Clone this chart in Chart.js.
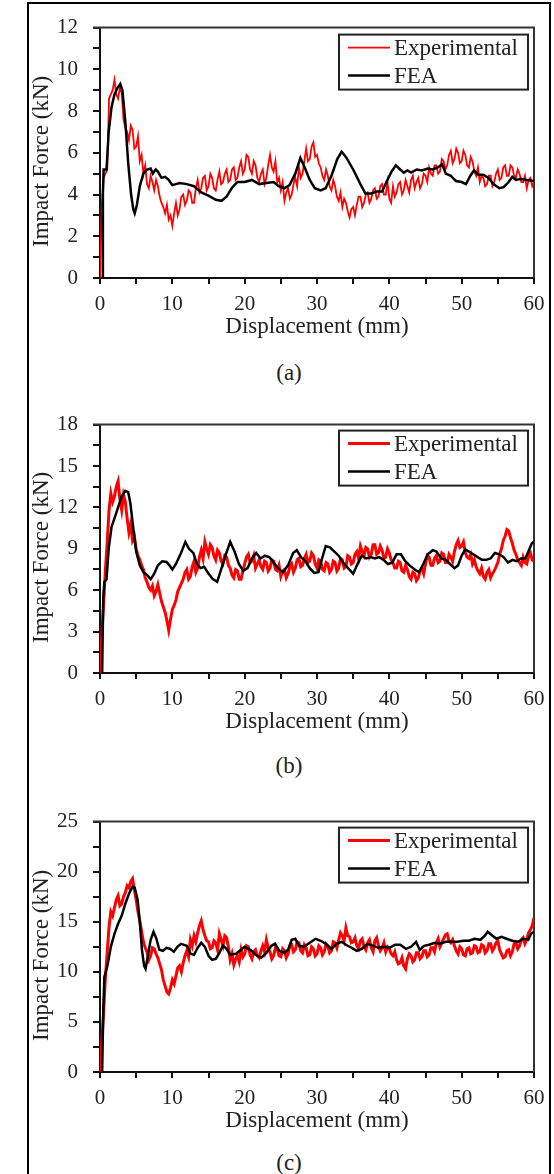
<!DOCTYPE html>
<html>
<head>
<meta charset="utf-8">
<script src="https://cdn.jsdelivr.net/npm/chart.js@4.4.1/dist/chart.umd.min.js"></script>
<style>
  html, body { margin: 0; padding: 0; background: #fff; }
  #page { position: relative; width: 554px; height: 1174px; overflow: hidden; background: #fff; }
  #frame { position: absolute; left: 27px; top: 2px; width: 520px; height: 1200px; border: 2px solid #000; border-bottom: none; }
  canvas { position: absolute; left: 0; }
  .caption { position: absolute; left: 249px; width: 80px; text-align: center; font: 23px/28px "Liberation Serif", "Times New Roman", serif; color: #222; }
</style>
</head>
<body>
<div id="page">
  <div id="frame"></div>
  <canvas id="chart-a" width="554" height="341" style="top:0px;width:554px;height:341px"></canvas>
  <div class="caption" style="top:359px">(a)</div>
  <canvas id="chart-b" width="554" height="339" style="top:397px;width:554px;height:339px"></canvas>
  <div class="caption" style="top:752px">(b)</div>
  <canvas id="chart-c" width="554" height="341" style="top:794px;width:554px;height:341px"></canvas>
  <div class="caption" style="top:1149px">(c)</div>
</div>
<script>
// displacement (mm) of the experimental traces, one row = 5 mm
var expX = [0,0.25,0.5,0.75,1,1.25,1.5,1.75,2,2.25,2.5,2.75,3,3.25,3.5,3.75,4,4.25,4.5,4.75,
  5,5.25,5.5,5.75,6,6.25,6.5,6.75,7,7.25,7.5,7.75,8,8.25,8.5,8.75,9,9.25,9.5,9.75,
  10,10.25,10.5,10.75,11,11.25,11.5,11.75,12,12.25,12.5,12.75,13,13.25,13.5,13.75,14,14.25,14.5,14.75,
  15,15.25,15.5,15.75,16,16.25,16.5,16.75,17,17.25,17.5,17.75,18,18.25,18.5,18.75,19,19.25,19.5,19.75,
  20,20.25,20.5,20.75,21,21.25,21.5,21.75,22,22.25,22.5,22.75,23,23.25,23.5,23.75,24,24.25,24.5,24.75,
  25,25.25,25.5,25.75,26,26.25,26.5,26.75,27,27.25,27.5,27.75,28,28.25,28.5,28.75,29,29.25,29.5,29.75,
  30,30.25,30.5,30.75,31,31.25,31.5,31.75,32,32.25,32.5,32.75,33,33.25,33.5,33.75,34,34.25,34.5,34.75,
  35,35.25,35.5,35.75,36,36.25,36.5,36.75,37,37.25,37.5,37.75,38,38.25,38.5,38.75,39,39.25,39.5,39.75,
  40,40.25,40.5,40.75,41,41.25,41.5,41.75,42,42.25,42.5,42.75,43,43.25,43.5,43.75,44,44.25,44.5,44.75,
  45,45.25,45.5,45.75,46,46.25,46.5,46.75,47,47.25,47.5,47.75,48,48.25,48.5,48.75,49,49.25,49.5,49.75,
  50,50.25,50.5,50.75,51,51.25,51.5,51.75,52,52.25,52.5,52.75,53,53.25,53.5,53.75,54,54.25,54.5,54.75,
  55,55.25,55.5,55.75,56,56.25,56.5,56.75,57,57.25,57.5,57.75,58,58.25,58.5,58.75,59,59.25,59.5,59.75,
  60];

// (a) impact force, kN
var expA = [0,3.5,4.8,5.0,5.2,8.6,8.8,9.0,9.5,8.8,8.6,9.1,8.9,7.6,7.2,7.0,6.6,7.3,7.1,6.2,
  6.3,6.8,5.6,5.9,5.0,5.4,4.5,4.3,4.9,4.6,4.2,4.7,4.4,3.9,3.6,3.4,3.1,3.5,2.8,3.0,
  2.5,3.1,3.6,3.0,3.3,3.9,4.0,3.5,3.7,4.2,4.1,3.6,3.6,4.3,4.7,4.1,4.3,4.8,4.9,4.2,
  4.4,5.0,4.8,4.3,4.2,4.7,5.1,4.5,4.6,5.0,5.2,4.6,4.7,5.2,5.3,4.7,4.8,5.3,5.6,5.0,
  5.2,5.9,5.8,5.2,5.0,5.6,5.4,4.8,4.6,5.0,5.2,4.5,4.8,5.4,5.9,5.3,5.1,5.6,4.6,4.8,
  4.2,4.6,3.7,4.1,4.3,3.8,4.0,4.5,4.8,4.4,5.3,4.8,5.0,5.6,6.2,5.6,5.7,6.3,6.5,5.8,
  5.9,5.5,5.3,4.9,4.7,5.2,4.9,4.4,4.2,4.7,4.4,3.9,3.7,4.1,3.4,3.8,3.6,3.2,2.9,3.3,
  3.4,3.0,3.5,3.9,3.9,3.4,3.6,4.0,4.1,3.6,3.8,4.2,4.3,3.8,3.9,4.4,4.5,4.0,4.0,4.6,
  3.8,3.6,4.4,3.9,4.1,4.5,4.6,4.0,4.2,4.7,4.4,4.1,4.7,4.9,4.3,4.6,4.8,4.3,4.5,5.0,
  4.9,4.6,5.3,5.0,4.9,5.4,5.4,5.0,5.1,5.7,5.6,5.2,5.4,5.9,6.1,5.5,5.7,6.2,6.0,5.5,
  5.6,6.1,5.9,5.4,5.3,5.8,5.6,5.1,4.9,5.3,4.6,4.9,4.8,4.4,4.5,4.9,4.9,4.4,4.6,5.0,
  5.2,4.7,4.8,5.3,5.4,4.9,4.9,5.4,5.3,4.9,4.8,5.2,5.0,4.6,4.6,4.9,4.3,4.7,4.8,4.4,
  4.6];
var feaAx = [0.3,0.4,0.5,0.9,1.2,1.6,2.0,2.4,2.8,3.1,3.5,3.9,4.3,4.6,4.8,5.1,5.5,6.0,6.5,7.0,
  7.3,7.7,8.0,8.5,9.0,9.5,10.0,10.5,11.0,12.0,13,14,15,16,16.8,17.5,18.2,19,20,21,
  22,23,24,24.7,25.5,26.2,27,27.7,28.3,29,29.7,30.5,31.2,32,32.8,33.4,34,35,36,36.7,
  37.5,38.3,39,39.6,40.3,40.9,41.5,42,42.5,43,43.8,44.5,45.3,46,46.7,47.3,47.8,48.5,49.2,50,
  50.6,51.2,51.7,52.3,53,53.7,54.4,55.2,55.8,56.5,57,57.5,58.2,59,60];
var feaAy = [0,4.0,5.2,5.2,7.0,8.2,8.8,9.1,9.3,9.0,7.5,5.5,4.0,3.3,3.1,3.5,4.4,5.0,5.2,5.25,
  5.0,5.2,5.1,4.8,4.85,4.7,4.45,4.5,4.55,4.5,4.4,4.1,3.95,3.75,3.7,3.9,4.3,4.6,4.6,4.7,
  4.5,4.55,4.6,4.4,4.3,4.45,5.0,5.75,5.3,4.7,4.3,4.2,4.3,4.9,5.7,6.05,5.8,5.2,4.5,4.05,
  4.05,4.15,4.15,4.6,5.1,5.4,5.2,5.05,5.15,5.05,5.2,5.15,5.25,5.2,5.3,5.45,5.0,4.9,4.65,4.6,
  4.5,4.9,5.15,4.95,4.95,4.8,4.5,4.3,4.35,4.6,4.85,4.7,4.75,4.7,4.65];

// (b)
var expB = [0,2.8,5.0,7.5,9.5,11.8,13.0,12.4,12.8,13.5,13.9,12.6,11.8,12.9,12.4,11.2,10.2,10.8,9.6,9.9,
  9.0,8.5,8.2,7.8,7.5,6.9,6.6,6.2,6.0,6.3,5.6,5.9,6.4,5.8,5.2,4.8,4.4,3.8,3.1,3.9,
  4.6,4.9,5.3,5.9,6.2,6.5,6.8,7.3,7.5,6.8,7.0,7.7,8.1,7.3,7.6,8.4,8.9,8.3,9.5,9.0,
  8.6,9.3,9.1,8.5,8.2,8.9,8.7,8.1,7.9,8.5,8.4,7.8,7.6,7.1,6.9,7.5,7.4,6.8,6.8,7.4,
  7.9,8.4,8.6,8.0,8.1,8.5,7.6,7.9,8.2,7.7,7.5,8.1,8.0,7.4,7.6,8.2,8.1,7.5,7.4,7.8,
  7.0,7.4,7.5,6.9,7.2,7.7,7.9,7.3,7.6,8.2,8.3,7.7,7.8,8.3,8.6,8.0,8.1,8.7,8.5,7.9,
  7.6,8.2,8.1,7.5,7.4,8.0,7.9,7.3,7.5,8.1,8.0,7.4,7.6,8.3,8.2,7.6,7.7,8.5,8.4,7.9,
  8.0,8.6,8.8,8.3,9.2,8.8,8.5,9.1,9.0,8.4,8.6,9.3,9.3,8.6,8.7,9.2,8.9,8.3,8.4,9.0,
  8.7,8.2,8.0,7.6,7.6,8.1,8.0,7.4,7.3,7.8,7.5,7.0,6.8,7.3,7.2,6.7,6.9,7.4,7.6,7.2,
  7.9,8.5,8.4,7.8,7.8,8.3,8.5,8.0,8.1,8.7,8.6,8.0,8.0,8.6,8.4,8.1,8.8,9.3,9.6,9.1,
  9.2,9.5,8.7,8.4,8.3,8.6,7.9,8.2,7.7,7.4,7.2,7.6,7.0,6.8,7.3,7.5,6.9,7.2,7.4,7.7,
  8.0,8.6,9.0,9.6,9.9,10.4,10.3,9.8,9.4,8.9,8.6,8.2,8.0,7.8,8.4,8.0,7.9,8.5,8.7,8.2,
  8.1];
var feaBx = [0.3,0.45,0.6,0.9,1.2,1.6,2.0,2.5,3.0,3.5,3.9,4.2,4.6,5.0,5.5,6.0,6.5,7.0,7.5,8.0,
  8.6,9.2,9.6,10.0,10.5,11.2,11.8,12.3,12.9,13.4,13.9,14.4,15.0,15.6,16.2,16.8,17.4,18.0,18.6,19.2,
  19.8,20.4,21.0,21.6,22.2,22.8,23.4,24.0,24.6,25.3,26.0,26.7,27.2,27.8,28.4,29.0,29.6,30.2,30.7,31.2,
  31.8,32.4,33.0,33.6,34.3,35.0,35.6,36.2,36.8,37.4,38.0,38.6,39.2,39.8,40.4,41.0,41.6,42.2,42.8,43.5,
  44.1,44.7,45.3,46.0,46.5,47.2,47.8,48.4,49.0,49.5,50.0,50.5,51.0,51.6,52.2,52.8,53.4,54.0,54.6,55.2,
  55.8,56.4,57.0,57.6,58.2,58.8,59.3,59.7,60.0];
var feaBy = [0,5.5,6.6,6.8,9.0,10.6,11.2,12.0,12.8,13.2,13.1,12.3,10.5,8.8,7.8,7.3,7.1,6.8,7.2,7.8,
  8.1,8.05,7.8,7.5,7.9,8.7,9.5,9.0,8.7,7.9,7.6,7.7,7.2,6.8,6.6,7.6,8.6,9.5,8.8,7.9,
  7.4,7.6,8.3,8.7,8.3,8.5,8.4,8.0,7.6,7.3,7.8,8.7,8.9,8.4,8.1,7.6,7.25,7.3,8.3,9.2,
  9.1,8.8,8.5,8.0,7.6,7.2,7.9,8.5,8.3,8.4,8.3,8.4,8.2,7.9,8.0,8.6,8.6,8.1,7.8,7.5,
  7.3,7.9,8.6,8.9,8.8,8.3,8.2,7.9,7.6,7.8,8.5,8.95,8.8,8.6,8.4,8.2,8.2,8.3,8.7,8.6,
  8.4,8.0,8.2,8.1,8.3,8.3,8.9,9.4,9.5];

// (c)
var expC = [0,3.0,6.0,9.5,12.0,14.5,16.0,15.6,16.4,17.2,17.6,16.6,16.8,17.5,17.9,18.6,18.4,19.0,19.3,18.2,
  17.2,16.0,15.1,14.0,13.0,12.4,12.0,11.2,11.6,12.4,12.3,11.8,11.4,10.8,10.2,9.2,8.6,8.0,7.8,8.4,
  9.2,8.8,9.6,10.4,10.6,10.0,10.9,11.6,12.1,11.5,13.2,12.6,13.6,13.0,13.9,14.6,15.1,14.2,13.6,13.1,
  13.0,12.3,12.4,13.1,12.9,12.2,13.8,13.2,12.6,13.6,13.4,12.5,11.2,11.8,10.7,11.3,11.6,11.0,12.2,11.5,
  11.8,12.6,12.5,11.7,11.3,12.0,12.2,11.6,11.4,12.1,12.6,12.0,13.2,12.4,12.0,11.3,11.6,12.4,12.3,11.6,
  11.5,12.3,12.1,11.4,11.8,12.6,12.7,12.0,12.2,13.0,12.9,12.1,11.9,12.7,12.4,11.6,11.7,12.5,12.3,11.6,
  11.8,12.6,12.4,11.7,12.0,12.8,12.6,11.9,12.1,13.0,12.9,12.4,13.2,13.9,13.6,13.1,14.4,13.6,13.5,12.9,
  13.0,13.4,12.6,12.3,13.1,13.3,12.5,12.2,12.9,13.2,12.4,12.0,13.1,13.4,12.6,12.1,12.4,12.9,12.0,12.5,
  12.3,11.8,11.6,12.0,11.2,10.8,10.9,11.4,10.6,10.3,11.3,11.8,11.6,11.0,11.2,11.9,11.9,11.3,11.5,12.1,
  12.1,11.5,11.7,12.4,12.4,12.0,12.9,13.3,12.5,12.9,13.3,13.7,13.8,13.1,12.9,13.2,12.6,12.1,11.8,12.5,
  12.3,11.7,11.6,12.3,12.4,11.8,11.9,12.6,12.5,11.9,12.0,12.7,12.6,11.9,12.1,12.8,12.8,12.1,12.4,12.9,
  13.1,12.2,11.8,11.4,11.5,12.1,12.2,11.6,12.0,12.8,12.9,12.3,12.6,13.2,13.4,12.8,13.2,13.9,14.2,14.6,
  15.4];
var feaCx = [0.3,0.45,0.6,1.0,1.5,2.0,2.5,3.0,3.5,4.0,4.5,4.8,5.2,5.5,5.8,6.1,6.3,6.6,7.0,7.4,
  7.8,8.2,8.7,9.2,9.7,10.2,10.7,11.2,12.0,12.5,13.0,13.5,14.0,14.5,15.0,15.5,16.0,16.5,17.0,17.5,
  18.0,18.8,19.5,20.0,20.8,21.5,22.3,23.0,23.7,24.2,24.8,25.5,26.0,26.5,27.0,27.5,28.2,29.0,29.8,30.5,
  31.2,32.0,32.7,33.4,34.0,34.8,35.5,36.2,37.0,37.8,38.5,39.3,40.0,40.8,41.5,42.3,43.0,43.7,44.2,44.8,
  45.5,46.3,47.0,47.8,48.6,49.4,50.2,51.0,51.8,52.6,53.2,53.6,54.1,54.8,55.5,56.2,57.0,57.8,58.5,59.2,
  59.6,60.0];
var feaCy = [0,6.0,9.5,10.5,12.5,13.8,14.8,15.6,16.8,17.8,18.5,18.4,17.2,15.0,12.2,10.6,10.3,11.5,13.2,14.0,
  13.3,12.2,12.1,12.4,12.3,12.0,12.5,12.8,12.6,11.8,11.7,12.4,12.9,12.5,11.6,11.2,11.3,11.9,12.6,12.3,
  11.7,11.8,12.2,12.5,12.2,11.7,11.4,11.9,12.6,12.8,12.1,11.9,12.2,13.2,13.3,12.6,12.5,12.9,13.3,13.1,
  12.8,12.3,12.8,13.0,12.7,12.4,12.1,12.3,12.8,12.6,12.4,12.5,12.4,12.7,12.7,12.3,12.5,13.0,12.2,12.6,
  12.7,12.9,12.8,13.0,13.0,13.0,13.1,13.1,13.3,13.2,13.6,14.0,13.7,13.3,13.5,13.3,13.1,13.0,13.3,13.2,
  13.8,14.0];

var seriesNames = ['Experimental', 'FEA'];
var serif = '"Liberation Serif", "Times New Roman", serif';

function pts(xs, ys) {
  return xs.map(function(x, i) { return {x: x, y: ys[i]}; });
}

// top and right edges of the plot box
var plotBox = {
  id: 'plotBox',
  beforeDatasetsDraw: function(chart) {
    var a = chart.chartArea, ctx = chart.ctx;
    ctx.save();
    ctx.strokeStyle = '#333';
    ctx.lineWidth = 2;
    ctx.beginPath();
    ctx.moveTo(a.left - 7, a.top);
    ctx.lineTo(a.right, a.top);
    ctx.lineTo(a.right, a.bottom);
    ctx.stroke();
    ctx.restore();
  }
};

// boxed legend in the top right corner
var legendBox = {
  id: 'legendBox',
  afterDatasetsDraw: function(chart, args, opts) {
    var a = chart.chartArea, ctx = chart.ctx;
    var w = 189, h = 55;
    var x = a.right - 6 - w, y = a.top + opts.offset;
    ctx.save();
    ctx.fillStyle = '#fff';
    ctx.fillRect(x, y, w, h);
    ctx.strokeStyle = '#222';
    ctx.lineWidth = 2;
    ctx.strokeRect(x, y, w, h);
    ctx.font = '23px ' + serif;
    ctx.textBaseline = 'middle';
    chart.data.datasets.forEach(function(ds, i) {
      var ly = y + 13 + i * 28;
      ctx.strokeStyle = ds.borderColor;
      ctx.lineWidth = ds.borderWidth;
      ctx.beginPath();
      ctx.moveTo(x + 9, ly);
      ctx.lineTo(x + 51, ly);
      ctx.stroke();
      ctx.fillStyle = '#222';
      ctx.fillText(ds.label, x + 55, ly + 1);
    });
    ctx.restore();
  }
};

function makePanel(id, p) {
  var ctx = document.getElementById(id).getContext('2d');
  return new Chart(ctx, {
    type: 'line',
    data: {
      datasets: [{
        label: seriesNames[0],
        data: pts(expX, p.exp),
        borderColor: '#ff0000',
        borderWidth: p.redWidth,
        pointRadius: 0,
        tension: 0,
        order: 1
      }, {
        label: seriesNames[1],
        data: pts(p.feaX, p.feaY),
        borderColor: '#000',
        borderWidth: 2.5,
        pointRadius: 0,
        tension: 0,
        order: 0
      }]
    },
    options: {
      responsive: false,
      animation: false,
      devicePixelRatio: 1,
      layout: { padding: { left: 0, right: 20, top: 14, bottom: 0 } },
      plugins: {
        legend: { display: false },
        tooltip: { enabled: false },
        legendBox: { offset: p.legendOffset }
      },
      scales: {
        x: {
          type: 'linear',
          min: 0, max: 60,
          afterFit: function(s) { s.height = 63; },
          border: { display: true, color: '#111', width: 2 },
          grid: { drawOnChartArea: false, drawTicks: true, tickLength: 6, color: '#111', lineWidth: 2 },
          ticks: {
            stepSize: 5, padding: 8, maxRotation: 0, autoSkip: false,
            color: '#222', font: { family: serif, size: 21 },
            callback: function(v) { return v % 10 === 0 ? v : ''; }
          },
          title: {
            display: true, text: 'Displacement (mm)', color: '#222',
            font: { family: serif, size: 23, lineHeight: 1.2 },
            padding: { top: 0, bottom: 0 }
          }
        },
        y: {
          min: 0, max: p.yMax,
          afterFit: function(s) { s.width = 100; },
          border: { display: true, color: '#111', width: 2 },
          grid: { drawOnChartArea: false, drawTicks: true, tickLength: 7, color: '#111', lineWidth: 2 },
          ticks: {
            stepSize: p.yStep, padding: 15, autoSkip: false,
            color: '#222', font: { family: serif, size: 21 },
            callback: function(v) {
              var r = v / p.yMajor;
              return Math.abs(r - Math.round(r)) < 1e-6 ? v : '';
            }
          },
          title: {
            display: true, text: 'Impact Force (kN)   ', color: '#222',
            font: { family: serif, size: 23, lineHeight: 1.2 },
            padding: { top: 28, bottom: 0 }
          }
        }
      }
    },
    plugins: [plotBox, legendBox]
  });
}

makePanel('chart-a', { exp: expA, feaX: feaAx, feaY: feaAy, yMax: 12, yStep: 1, yMajor: 2, redWidth: 1.8, legendOffset: 7 });
makePanel('chart-b', { exp: expB, feaX: feaBx, feaY: feaBy, yMax: 18, yStep: 1.5, yMajor: 3, redWidth: 3, legendOffset: 6 });
makePanel('chart-c', { exp: expC, feaX: feaCx, feaY: feaCy, yMax: 25, yStep: 2.5, yMajor: 5, redWidth: 3, legendOffset: 6 });
</script>
</body>
</html>
